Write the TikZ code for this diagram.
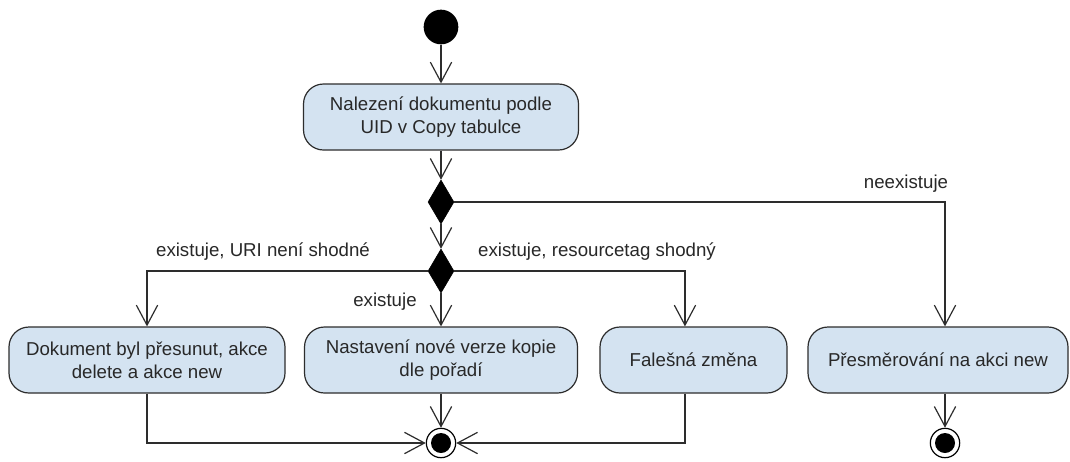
\documentclass[tikz,border=0pt]{standalone}
\usepackage{fontspec}
\setmainfont{Liberation Sans}
\usepackage{tikz}
\usetikzlibrary{arrows.meta,shapes.geometric,positioning,calc}
\definecolor{actfill}{RGB}{212,227,241}
\definecolor{actline}{RGB}{45,45,45}
\definecolor{acttext}{RGB}{40,40,40}
\tikzset{
action/.style={draw=actline, line width=0.9pt, fill=actfill, rounded corners=15pt, minimum height=49.5pt, text=acttext, align=center, inner sep=0pt, font=\fontsize{14}{17.25}\selectfont}, % activity boxes
decision/.style={diamond, fill=black, draw=black, inner sep=0pt, minimum width=19.5pt, minimum height=33pt}, % branch
startnode/.style={circle, fill=black, inner sep=0pt, minimum size=26pt}, % initial node
endnode/.style={circle, draw=black, line width=0.9pt, fill=white, inner sep=0pt, minimum size=22pt, path picture={\fill[black] (path picture bounding box.center) circle (7.5pt);}}, % final node
flow/.style={draw=actline, line width=0.9pt, -{Straight Barb[length=15pt,width=16pt]}},
lbl/.style={text=acttext, font=\fontsize{14}{17}\selectfont},
}

\begin{document}
\begin{tikzpicture}[x=0.75pt,y=0.75pt,yscale=-1,xscale=1]
\path[fill=white] (0,0) rectangle (1070,461);
\useasboundingbox (0,0) rectangle (1070,461);
%Start
\node[startnode] (start) at (441,27) {};
%Rounded Rect
\node[action, minimum width=206.25pt] (find) at (441,117) {Nalezení dokumentu podle\\UID v Copy tabulce};
%Diamonds
\node[decision] (exists) at (441,202) {};
\node[decision] (match) at (441,271) {};
%Rounded Rect
\node[action, minimum width=207pt] (moved) at (147,360) {Dokument byl přesunut, akce\\delete a akce new};
\node[action, minimum width=204.75pt] (version) at (441,360) {Nastavení nové verze kopie\\dle pořadí};
\node[action, minimum width=140.25pt] (fake) at (693.5,360) {Falešná změna};
\node[action, minimum width=195pt] (redirect) at (938,360) {Přesměrování na akci new};
%Final nodes
\node[endnode] (final) at (441,443) {};
\node[endnode] (final2) at (945,443) {};
%Straight Lines
\draw[flow] (start) -- (find);
\draw[flow] (find) -- (exists);
\draw[flow] (exists) -- (match);
\draw[flow] (exists.east) -| ([xshift=5.25pt]redirect.north);
\draw[flow] (match.west) -| (moved.north);
\draw[flow] (match.east) -| ([xshift=-6.4pt]fake.north);
\draw[flow] (match) -- (version);
\draw[flow] (moved.south) |- (final.west);
\draw[flow] ([xshift=-6.4pt]fake.south) |- (final.east);
\draw[flow] (version) -- (final);
\draw[flow] ([xshift=5.25pt]redirect.south) -- (final2);
%Labels
\node[lbl] (lnot) at (906,184) {neexistuje};
\node[lbl] (lmoved) at (263,252) {existuje, URI není shodné};
\node[lbl] (lfake) at (597,252) {existuje, resourcetag shodný};
\node[lbl] (lsame) at (385,302) {existuje};
\end{tikzpicture}
\end{document}
